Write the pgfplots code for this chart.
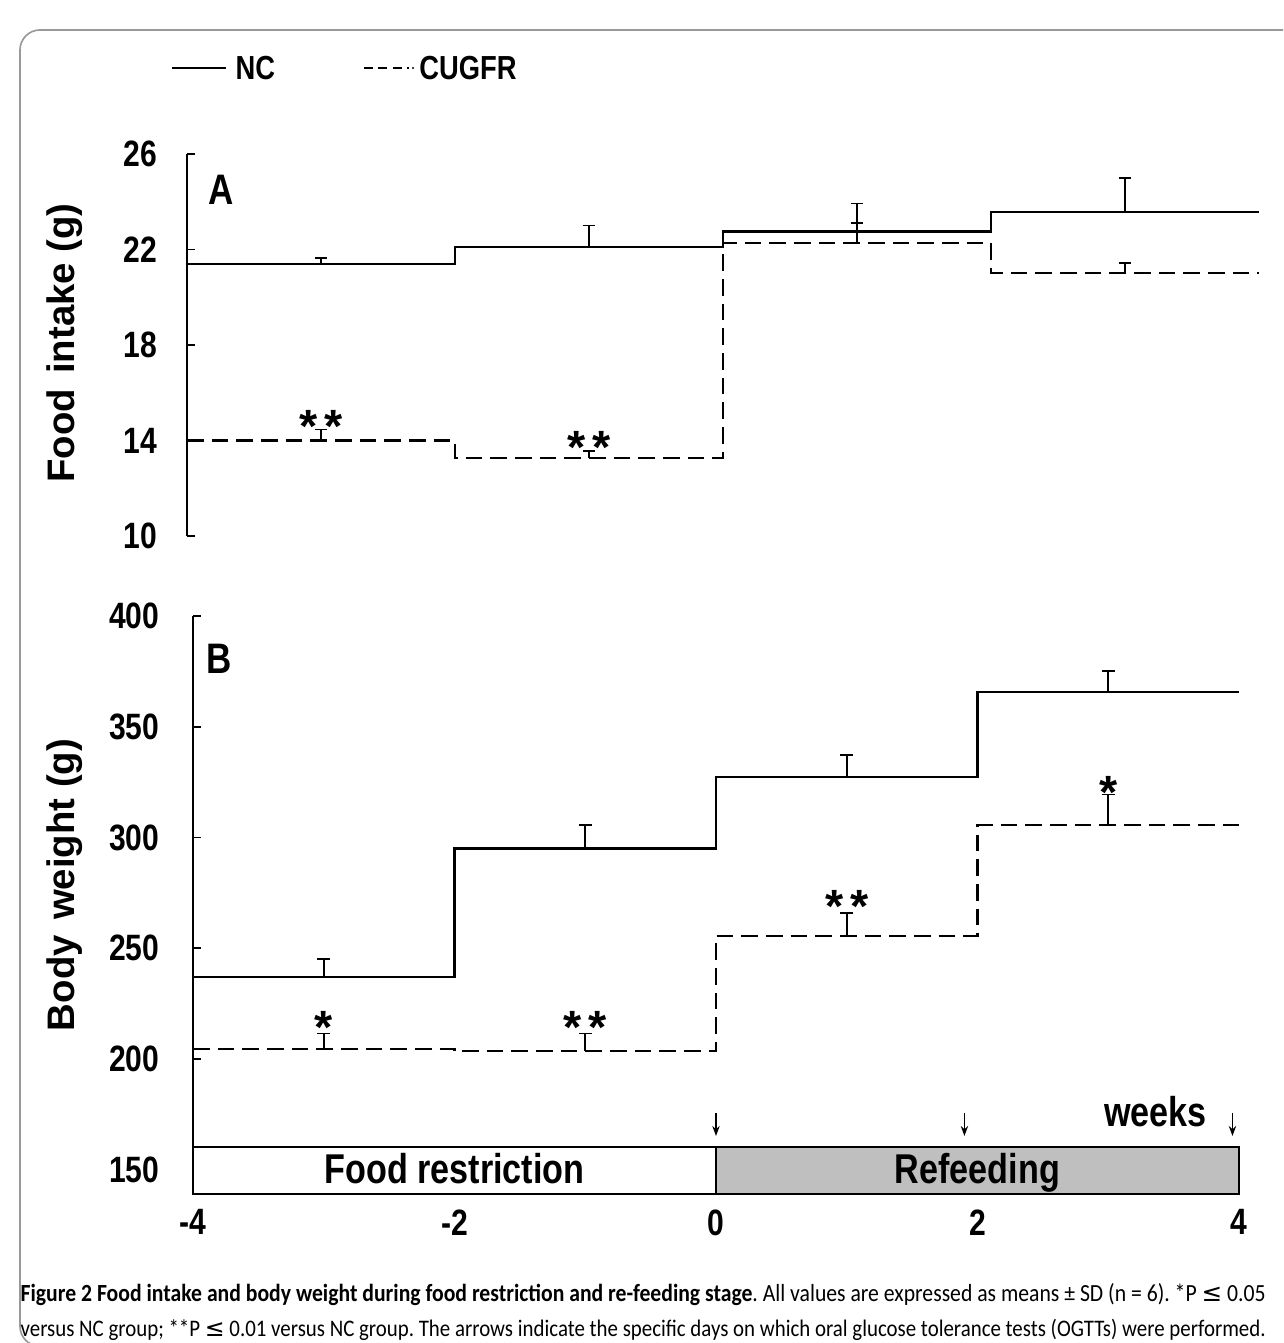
\documentclass[border=0pt]{standalone}
\usepackage{fontspec}
\setmainfont{Liberation Sans}
\newfontfamily\cf{Liberation Sans}[FakeStretch=0.82]
\newfontfamily\capfont{Carlito}[FakeStretch=0.88]
\newfontfamily\dvfont{DejaVu Sans}
\usepackage{graphicx}
\usepackage{pgfplots}
\pgfplotsset{compat=1.18}
\usetikzlibrary{arrows.meta}
\frenchspacing

\pgfplotsset{
  myax/.style={
    scale only axis, xmin=-4, xmax=4,
    axis line style={line width=0.5pt},
    tick style={line width=0.5pt, black},
    every tick label/.append style={font=\cf\fontsize{11}{11}\selectfont\bfseries},
    clip=false,
  },
  nc/.style={black, line width=0.65pt, solid, const plot, mark=none},
  cu/.style={black, line width=0.65pt, dash pattern=on 5pt off 2.4pt, const plot, mark=none},
  eb/.style={black, forget plot, draw=none, mark=none,
    error bars/.cd, y dir=plus, y explicit,
    error bar style={draw=black, solid, line width=0.5pt},
    error mark options={draw=black, solid, rotate=90, line width=0.5pt, mark size=1.9pt}},
}
\newcommand{\stars}[1]{\raisebox{-0.575em}{#1}}

\begin{document}
\begin{tikzpicture}[x=1pt,y=1pt]
\useasboundingbox (0,0) rectangle (384.9,402.9);
\begin{scope}
\clip (0,0) rectangle (384.9,402.9);
\draw[black!40, line width=0.5pt, rounded corners=6pt] (6,-1) rectangle (400,393.9);
\end{scope}

% Legend
\draw[black, line width=0.6pt] (51.6,382.5) -- (67.8,382.5);
\node[anchor=west, inner sep=0pt, font=\cf\fontsize{10}{10}\selectfont\bfseries] at (70.5,382.5) {NC};
\draw[black, line width=0.6pt, dash pattern=on 2.7pt off 1.6pt] (109.2,382.5) -- (122.6,382.5);
\fill[black] (123.9,382.5) circle (0.35pt);
\node[anchor=west, inner sep=0pt, font=\cf\fontsize{10}{10}\selectfont\bfseries] at (125.6,382.5) {CUGFR};

% Y labels
\node[rotate=90, font=\fontsize{11.5}{11.5}\selectfont\bfseries] at (19.5,300) {Food\hspace{0.4em}intake (g)};
\node[rotate=90, font=\fontsize{11.5}{11.5}\selectfont\bfseries] at (19.5,137.4) {Body\hspace{0.4em}weight (g)};

% Panel A
\begin{axis}[myax, at={(56.1pt,242.1pt)}, anchor=south west,
  width=321.6pt, height=114.6pt, ymin=10, ymax=26,
  axis y line*=left, axis x line=none,
  ytick align=inside, major tick length=2.4pt,
  ytick={10,14,18,22,26}, yticklabels={10,14,18,22,26},
  yticklabel style={anchor=east, inner sep=0pt, xshift=-8.7pt}]
\addplot[nc] coordinates {(-4,21.38) (-2,22.1) (0,22.75) (2,23.56) (4,23.56)};
\addplot[cu] coordinates {(-4,14.0) (-2,13.28) (0,22.27) (2,21.02) (4,21.02)};
\addplot[eb] coordinates {(-3,21.38) +- (0,0.26) (-1,22.1) +- (0,0.9) (1,22.75) +- (0,1.17) (3,23.56) +- (0,1.44)};
\addplot[eb] coordinates {(-3,14.0) +- (0,0.46) (-1,13.28) +- (0,0.28) (1,22.27) +- (0,0.83) (3,21.02) +- (0,0.42)};
\node[font=\cf\fontsize{12.8}{12.8}\selectfont\bfseries] at (axis cs:-3.746,24.51) {A};
\node[anchor=base, font=\fontsize{14}{14}\selectfont\bfseries] at (axis cs:-3,15.05) {\stars{*\hspace{2pt}*}};
\node[anchor=base, font=\fontsize{14}{14}\selectfont\bfseries] at (axis cs:-1,14.15) {\stars{*\hspace{2pt}*}};
\end{axis}

% Panel B
\begin{axis}[myax, at={(57.9pt,44.7pt)}, anchor=south west,
  width=313.8pt, height=173.4pt, ymin=139, ymax=400,
  axis y line*=left, axis x line*=bottom, x axis line style={draw=none},
  ytick align=inside, major tick length=2.4pt,
  xtick={-4,-2,0,2,4}, xticklabels={-4,-2,0,2,4}, xtick style={draw=none},
  xticklabel style={anchor=north, inner sep=0pt, yshift=-4.5pt},
  ytick={150,200,250,300,350,400}, yticklabels={150,200,250,300,350,400},
  yticklabel style={anchor=east, inner sep=0pt, xshift=-9.9pt}]
\addplot[nc] coordinates {(-4,237) (-2,295) (0,327.4) (2,365.6) (4,365.6)};
\addplot[cu] coordinates {(-4,204.6) (-2,203.5) (0,255.6) (2,305.5) (4,305.5)};
\addplot[eb] coordinates {(-3,237) +- (0,8) (-1,295) +- (0,10.5) (1,327.4) +- (0,9.8) (3,365.6) +- (0,9.7)};
\addplot[eb] coordinates {(-3,204.6) +- (0,6.8) (-1,203.5) +- (0,7.9) (1,255.6) +- (0,10.4) (3,305.5) +- (0,13.9)};
\addplot[draw=black, line width=0.6pt, fill=white, forget plot] coordinates {(-4,139) (0,139) (0,160) (-4,160)} -- cycle;
\addplot[draw=black, line width=0.6pt, fill=black!25, forget plot] coordinates {(0,139) (4,139) (4,160) (0,160)} -- cycle;
\node[font=\cf\fontsize{12.8}{12.8}\selectfont\bfseries] at (axis cs:-3.797,380.6) {B};
\node[anchor=base, font=\fontsize{14}{14}\selectfont\bfseries] at (axis cs:-3,218.9) {\stars{*}};
\node[anchor=base, font=\fontsize{14}{14}\selectfont\bfseries] at (axis cs:-1,218.9) {\stars{*\hspace{2pt}*}};
\node[anchor=base, font=\fontsize{14}{14}\selectfont\bfseries] at (axis cs:1,273.9) {\stars{*\hspace{2pt}*}};
\node[anchor=base, font=\fontsize{14}{14}\selectfont\bfseries] at (axis cs:3,325.2) {\stars{*}};
\draw[line width=0.45pt, -{Stealth[length=3pt,width=2.2pt]}] (axis cs:0,175.6) -- (axis cs:0,165.2);
\draw[line width=0.45pt, -{Stealth[length=3pt,width=2.2pt]}] (axis cs:1.9,175.6) -- (axis cs:1.9,165.2);
\draw[line width=0.45pt, -{Stealth[length=3pt,width=2.2pt]}] (axis cs:3.95,175.6) -- (axis cs:3.95,165.2);
\node[anchor=base, font=\cf\fontsize{12.5}{12.5}\selectfont\bfseries] at (axis cs:3.36,169.3) {weeks};
\node[anchor=base, font=\cf\fontsize{12.5}{12.5}\selectfont\bfseries] at (axis cs:-2,143.6) {Food restriction};
\node[anchor=base, font=\cf\fontsize{12.5}{12.5}\selectfont\bfseries] at (axis cs:2,143.6) {Refeeding};
\end{axis}

% Caption
\node[anchor=base west, inner sep=0pt] at (6,12.3) {\resizebox{373.5pt}{!}{\capfont\fontsize{10}{12}\selectfont\textbf{Figure 2 Food intake and body weight during food restriction and re-feeding stage}. All values are expressed as means ± SD (n = 6). *P {\dvfont ≤} 0.05}};
\node[anchor=base west, inner sep=0pt] at (6,2.1) {\resizebox{373.5pt}{!}{\capfont\fontsize{10}{12}\selectfont versus NC group; **P {\dvfont ≤} 0.01 versus NC group. The arrows indicate the specific days on which oral glucose tolerance tests (OGTTs) were performed.}};
\end{tikzpicture}
\end{document}
